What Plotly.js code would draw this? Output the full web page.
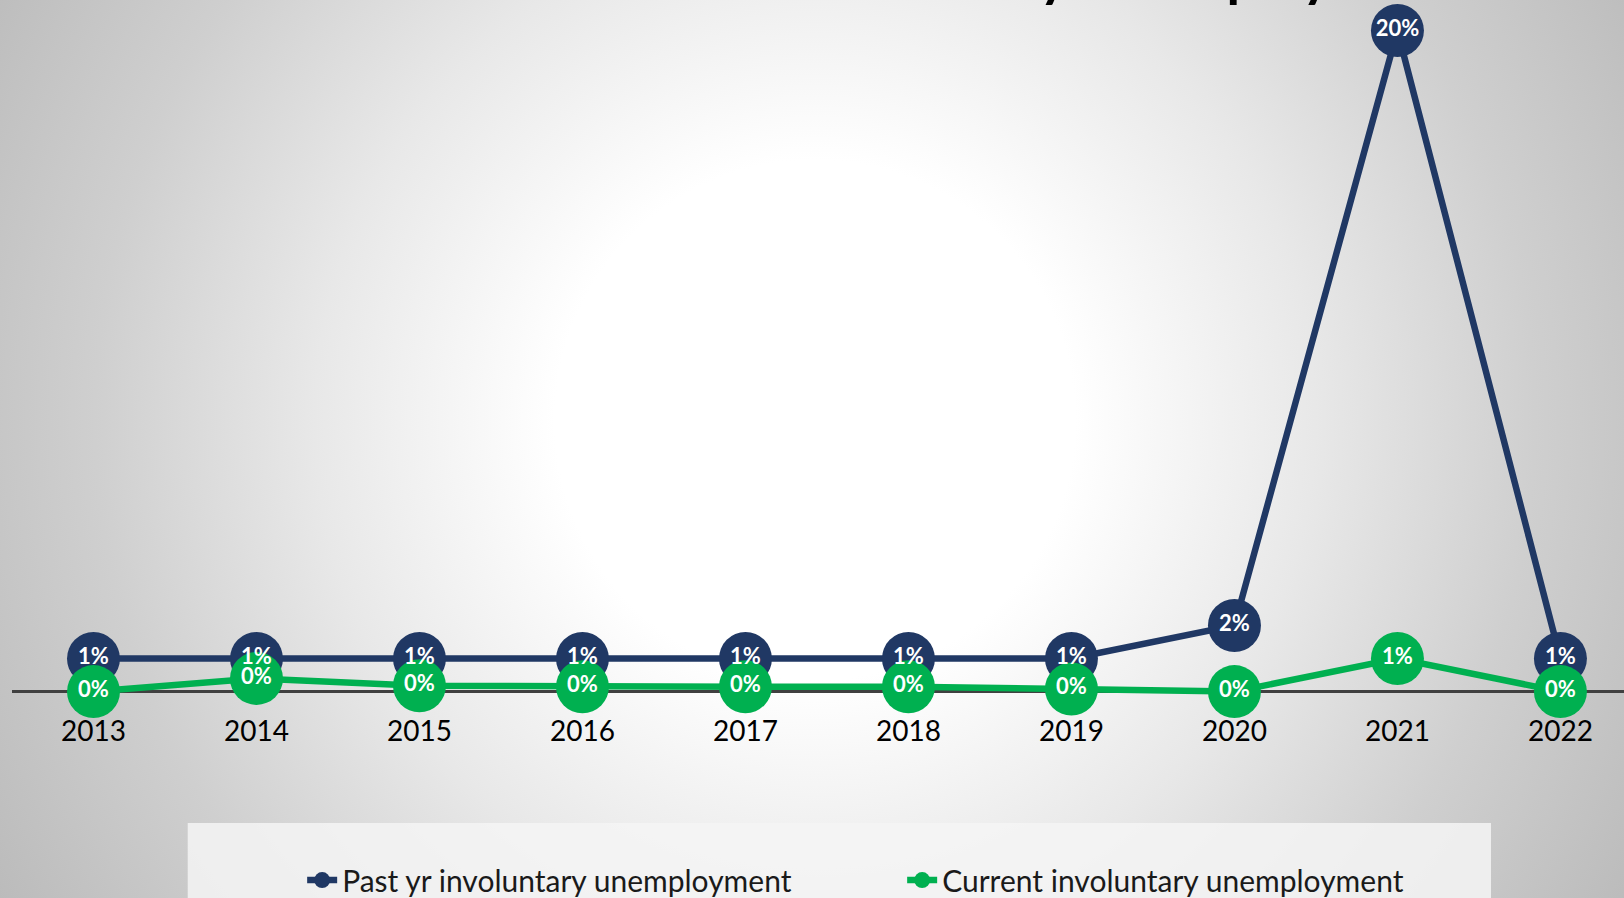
<!DOCTYPE html>
<html>
<head>
<meta charset="utf-8">
<script src="https://cdn.plot.ly/plotly-3.0.1.min.js"></script>
<style>
  html, body { margin: 0; padding: 0; width: 1624px; height: 898px; overflow: hidden; }
  body {
    background: radial-gradient(circle 980px at 815px 420px, #ffffff 0px, #ffffff 260px, #e8e8e8 500px, #cfcfcf 720px, #b8b8b8 980px);
  }
  #chart { width: 1624px; height: 898px; }
</style>
</head>
<body>
<div id="chart"></div>
<script>
// ---- data ----
const years = ['2013', '2014', '2015', '2016', '2017', '2018', '2019', '2020', '2021', '2022'];
const pastYearInvoluntary = [1.0, 1.0, 1.0, 1.0, 1.0, 1.0, 1.0, 2.0, 20.0, 1.0];
const currentInvoluntary = [0.0, 0.4, 0.18, 0.15, 0.15, 0.15, 0.08, 0.0, 1.0, 0.0];
const seriesNames = ['Past yr involuntary unemployment', 'Current involuntary unemployment'];
const titleText = 'Past Year and Current Involuntary Unemployment';

const NAVY = '#203864';
const GREEN = '#00B050';
const FONT = 'Lato, "Open Sans", sans-serif';

const lineTrace = (y, name, color) => ({
  type: 'scatter', mode: 'lines+markers', x: years, y: y, name: name,
  line: { color: color, width: 6.5 },
  marker: { color: color, size: 53 },
  cliponaxis: false, hoverinfo: 'skip'
});
const labelTrace = (y) => ({
  type: 'scatter', mode: 'text', x: years, y: y, showlegend: false,
  texttemplate: '%{y:.0f}%', textposition: 'middle center',
  textfont: { family: FONT, size: 22, color: '#ffffff', weight: 700 },
  cliponaxis: false, hoverinfo: 'skip'
});

const data = [
  lineTrace(pastYearInvoluntary, seriesNames[0], NAVY),
  lineTrace(currentInvoluntary, seriesNames[1], GREEN),
  labelTrace(pastYearInvoluntary),
  labelTrace(currentInvoluntary)
];

const layout = {
  width: 1624, height: 898,
  margin: { l: 12, r: 0, t: 0, b: 186, autoexpand: false },
  paper_bgcolor: 'rgba(0,0,0,0)',
  plot_bgcolor: 'rgba(0,0,0,0)',
  font: { family: FONT, color: '#000000' },
  hovermode: false,
  xaxis: {
    type: 'category', range: [-0.5, 9.39],
    showgrid: false, showline: false, zeroline: false, ticks: '',
    tickfont: { family: FONT, size: 28, color: '#000000' },
    fixedrange: true
  },
  yaxis: {
    range: [-0.617, 20.926],
    showgrid: false, showline: false, showticklabels: false, ticks: '',
    zeroline: true, zerolinecolor: '#404040', zerolinewidth: 3,
    fixedrange: true
  },
  showlegend: true,
  legend: {
    orientation: 'h', x: 0.18, xanchor: 'left', y: -0.236, yanchor: 'middle',
    bgcolor: 'rgba(0,0,0,0)', entrywidth: 555,
    font: { family: FONT, size: 30, color: '#1a1a1a' },
    traceorder: 'normal'
  },
  shapes: [{
    type: 'rect', xref: 'paper', yref: 'paper', layer: 'below',
    x0: 0.109, x1: 0.9175, y0: -0.156, y1: -0.32,
    fillcolor: 'rgba(244,244,244,0.85)', line: { width: 0 }
  }],
  annotations: [{
    text: titleText, xref: 'paper', yref: 'paper', x: 0.522, y: 1,
    xanchor: 'center', yanchor: 'bottom', yshift: -10, showarrow: false,
    font: { family: FONT, size: 55, color: '#000000', weight: 700 }
  }]
};

Plotly.newPlot('chart', data, layout, { displayModeBar: false, staticPlot: true });
</script>
</body>
</html>
